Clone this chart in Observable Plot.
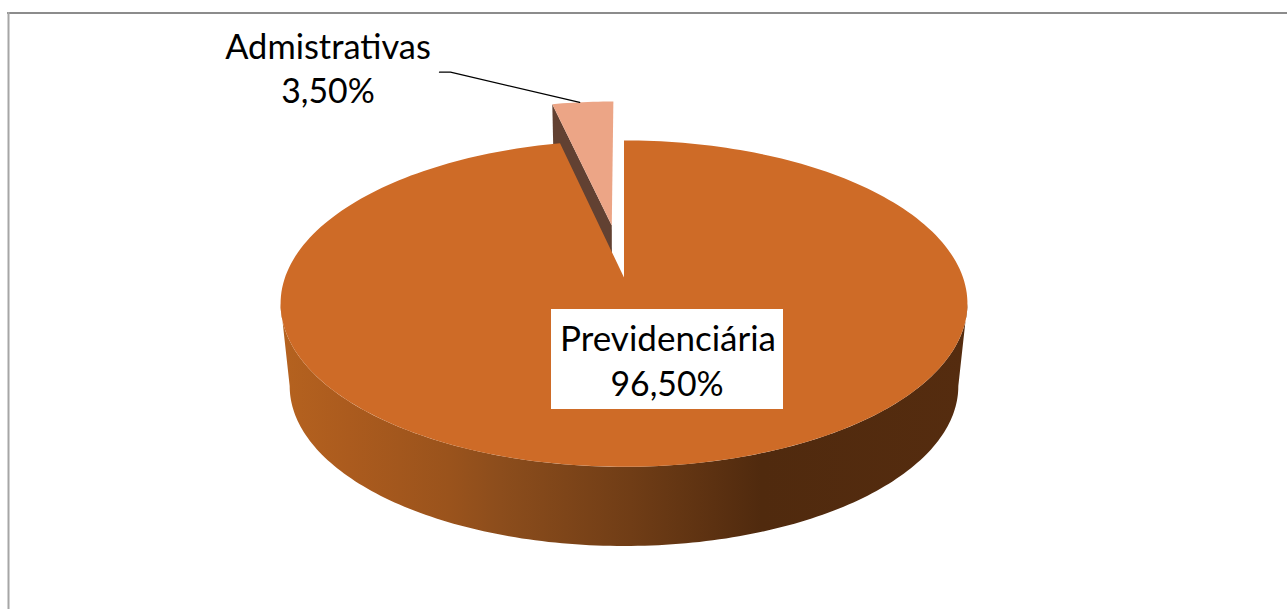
<!DOCTYPE html>
<html>
<head>
<meta charset="utf-8">
<script src="https://cdn.jsdelivr.net/npm/d3@7"></script>
<script src="https://cdn.jsdelivr.net/npm/@observablehq/plot@0.6"></script>
<style>
html,body{margin:0;padding:0;background:#fff;overflow:hidden}
svg{display:block}
</style>
</head>
<body>
<div id="chart"></div>
<script>
const categories = ["Admistrativas", "Previdenciária"];
const shares = [3.5, 96.5];
const shareLabels = ["3,50%", "96,50%"];

// Layout of the perspective disc
const W = 1287, H = 609;
const cx = 623.5, cy = 277, X = 339, R = 159, k = 0.16;
const explode = 0.347;
const wallScaleX = 0.9735, wallScaleY = 0.98, wallDrop = 83;

const project = (u, v, fx = 1, fy = 1, drop = 0) => {
  const s = 1 / (1 + k * v);
  return {x: cx + X * fx * u * s, y: cy + drop - R * fy * v * s};
};
// angle measured clockwise from 12 o'clock; slice 0 ends at 12 o'clock
const onCircle = a => [Math.sin(a), Math.cos(a)];

const sliceAngle = shares[0] / d3.sum(shares) * 2 * Math.PI;
const mid = -sliceAngle / 2;
const off = onCircle(mid).map(d => d * explode);

const steps = 240;
const mainTop = [project(0, 0)];
for (let i = 0; i <= steps; i++) {
  const [u, v] = onCircle((2 * Math.PI - sliceAngle) * i / steps);
  mainTop.push(project(u, v));
}

const arc = (a0, a1, n) => d3.range(n + 1).map(i => onCircle(a0 + (a1 - a0) * i / n));
const smallPts = arc(-sliceAngle, 0, 12).map(([u, v]) => project(u + off[0], v + off[1]));
const smallTop = [project(off[0], off[1]), ...smallPts];
const edge = onCircle(-sliceAngle);
const smallWall = [
  project(off[0], off[1]),
  project(edge[0] + off[0], edge[1] + off[1]),
  project(edge[0] + off[0], edge[1] + off[1], wallScaleX, wallScaleY, wallDrop),
  project(off[0], off[1], wallScaleX, wallScaleY, wallDrop)
];

// lower part of the disc rim, from the right silhouette to the left silhouette
const frontArc = arc(Math.PI / 2 + Math.asin(k), 3 * Math.PI / 2 - Math.asin(k), 160);
const wall = [
  ...frontArc.map(([u, v]) => project(u, v)),
  ...frontArc.slice().reverse().map(([u, v]) => project(u, v, wallScaleX, wallScaleY, wallDrop))
];

const leaderAt = onCircle(-sliceAngle * 0.55);
const leaderEnd = project(leaderAt[0] + off[0], leaderAt[1] + off[1]);
const leader = [{x: 439, y: 71.7}, {x: 450, y: 71.7}, {x: leaderEnd.x, y: leaderEnd.y}];

const gradientStops = [
  [0, "#b5621f"], [0.1, "#ab5b1e"], [0.246, "#9a531c"], [0.32, "#8c4d1c"],
  [0.51, "#703d16"], [0.7, "#502a0e"], [1, "#552c0f"]
];
const wallDefs = () => {
  const defs = d3.create("svg:defs");
  const g = defs.append("linearGradient").attr("id", "wallGrad")
    .attr("x1", 0).attr("x2", 1).attr("y1", 0).attr("y2", 0);
  gradientStops.forEach(([o, c]) => g.append("stop").attr("offset", o).attr("stop-color", c));
  return defs.node();
};

const font = "Lato, Carlito, sans-serif";
const textRows = [
  {x: 327.5, y: 47, t: categories[0], s: 34.4},
  {x: 327.5, y: 92, t: shareLabels[0], s: 33.8},
  {x: 667.5, y: 339, t: categories[1], s: 35},
  {x: 666.5, y: 385, t: shareLabels[1], s: 33.8}
];

const chart = Plot.plot({
  width: W, height: H,
  margin: 0,
  x: {domain: [0, W], range: [0, W], axis: null},
  y: {domain: [0, H], range: [0, H], axis: null},
  marks: [
    wallDefs,
    Plot.ruleY([12.5], {x1: 7, x2: W, stroke: "#8c8c8c", strokeWidth: 2}),
    Plot.ruleX([8], {y1: 12, y2: H, stroke: "#a6a6a6", strokeWidth: 2}),
    Plot.line(smallWall, {x: "x", y: "y", fill: "#624132", stroke: "none"}),
    Plot.line(smallTop, {x: "x", y: "y", fill: "#eca586", stroke: "none"}),
    Plot.line(wall, {x: "x", y: "y", fill: "url(#wallGrad)", stroke: "none"}),
    Plot.line(mainTop, {x: "x", y: "y", fill: "#ce6b27", stroke: "none"}),
    Plot.line(leader, {x: "x", y: "y", stroke: "#000", strokeWidth: 1.3, curve: "linear"}),
    Plot.rect([0], {x1: () => 551, x2: () => 783, y1: () => 309, y2: () => 409, fill: "#fff"}),
    Plot.text(textRows, {x: "x", y: "y", text: "t", fontSize: "s", fontFamily: font, fill: "#000", textAnchor: "middle"})
  ]
});
document.getElementById("chart").append(chart);
</script>
</body>
</html>
